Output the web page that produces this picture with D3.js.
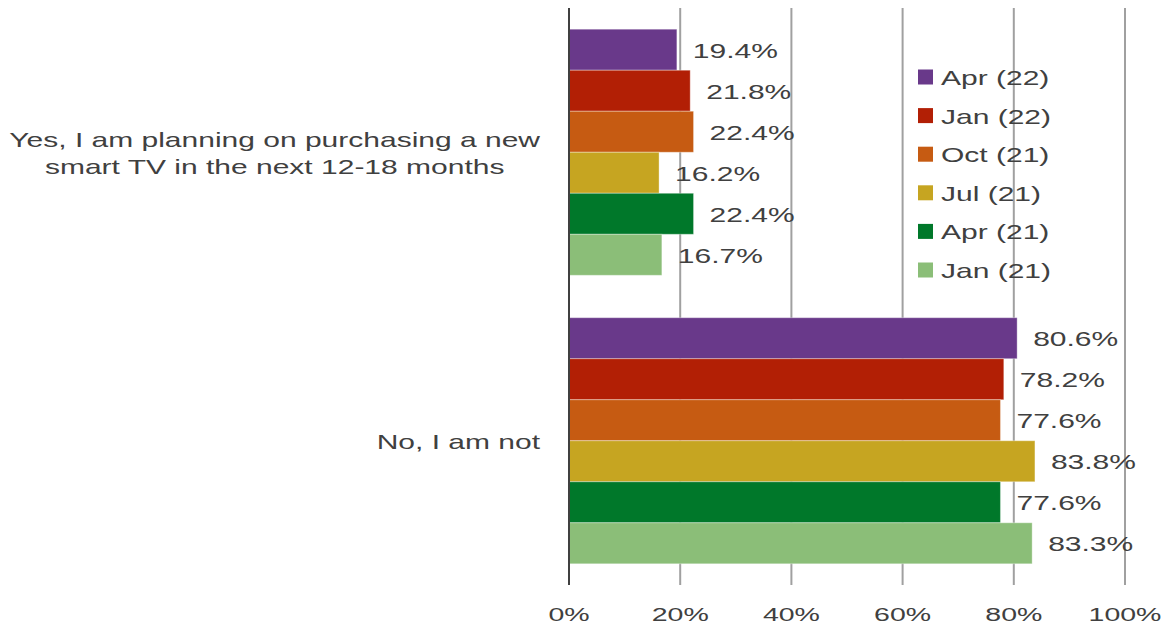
<!DOCTYPE html>
<html>
<head>
<meta charset="utf-8">
<script src="https://cdn.jsdelivr.net/npm/d3@7"></script>
<style>
  body { margin: 0; background: #fff; }
  text { font-family: "Liberation Sans", Arial, sans-serif; fill: #404040; }
</style>
</head>
<body>
<svg id="chart" width="1171" height="629"></svg>
<script>
// data
var categories = [
    ["Yes, I am planning on purchasing a new", "smart TV in the next 12-18 months"],
    ["No, I am not"]
]
var waves = ["Apr (22)", "Jan (22)", "Oct (21)", "Jul (21)", "Apr (21)", "Jan (21)"]
var colors = ["#69398a", "#b21f05", "#c65b12", "#c6a521", "#00782a", "#8bbe78"]
// values per wave, [yes, no]
var values = [
    [19.4, 80.6],
    [21.8, 78.2],
    [22.4, 77.6],
    [16.2, 83.8],
    [22.4, 77.6],
    [16.7, 83.3]
]
var xTicks = [0, 20, 40, 60, 80, 100]

var svg = d3.select("#chart")
var fontSize = 20
var stretch = 1.5   // original text is drawn wide

var x = d3.scaleLinear().domain([0, 100]).range([569, 1125])
var y0 = d3.scaleBand().domain(d3.range(categories.length)).range([8, 585])
    .paddingInner(0.147).paddingOuter(0.0735)
var y1 = d3.scaleBand().domain(waves).range([0, y0.bandwidth()])

var wideText = (sel, px, py, size = fontSize) => sel
    .attr("transform", `translate(${px},${py}) scale(${stretch},1)`)
    .attr("font-size", size)
    .attr("dominant-baseline", "central")

// grid lines
svg.append("g").selectAll("line")
    .data(xTicks.slice(1)).enter().append("line")
    .attr("x1", d => x(d)).attr("x2", d => x(d))
    .attr("y1", 8).attr("y2", 585)
    .attr("stroke", "#a0a0a0").attr("stroke-width", 2)

// bars
var groups = svg.append("g").selectAll("g")
    .data(categories).enter().append("g")
    .attr("transform", (d, i) => `translate(0,${y0(i)})`)

groups.each(function (c, ci) {
    var g = d3.select(this)
    var rows = waves.map((w, wi) => ({wave: w, color: colors[wi], v: values[wi][ci]}))
    g.selectAll("rect").data(rows).enter().append("rect")
        .attr("x", x(0))
        .attr("y", d => y1(d.wave))
        .attr("width", d => x(d.v) - x(0))
        .attr("height", y1.bandwidth())
        .attr("fill", d => d.color)
        .attr("stroke", "rgba(255,255,255,0.35)").attr("stroke-width", 1)
    g.selectAll("text").data(rows).enter().append("text")
        .each(function (d) {
            wideText(d3.select(this), x(d.v) + 16, y1(d.wave) + y1.bandwidth() / 2 + 1)
        })
        .text(d => d.v.toFixed(1) + "%")
})

// category axis line
svg.append("line")
    .attr("x1", x(0)).attr("x2", x(0))
    .attr("y1", 8).attr("y2", 585)
    .attr("stroke", "#404040").attr("stroke-width", 2)

// category labels: block right-aligned, lines centered inside it
categories.forEach((lines, ci) => {
    var cy = y0(ci) + y0.bandwidth() / 2 + 1
    var lh = 27
    var g = svg.append("g")
    var texts = lines.map((l, li) => wideText(g.append("text"), 0, cy + (li - (lines.length - 1) / 2) * lh)
        .attr("text-anchor", "middle").text(l))
    var maxW = d3.max(texts, t => t.node().getComputedTextLength()) * stretch
    var cx = 540 - maxW / 2
    texts.forEach((t, li) => t.attr("transform",
        `translate(${cx},${cy + (li - (lines.length - 1) / 2) * lh}) scale(${stretch},1)`))
})

// x tick labels
svg.append("g").selectAll("text")
    .data(xTicks).enter().append("text")
    .each(function (d) {
        wideText(d3.select(this), x(d), 614, 19).attr("text-anchor", "middle")
    })
    .text(d => d + "%")

// legend
var legend = svg.append("g").selectAll("g")
    .data(waves).enter().append("g")
    .attr("transform", (d, i) => `translate(918,${77 + i * 38.6})`)
legend.append("rect")
    .attr("x", 0).attr("y", -7.5).attr("width", 15).attr("height", 15)
    .attr("fill", (d, i) => colors[i])
legend.append("text")
    .each(function () { wideText(d3.select(this), 23, 1) })
    .text(d => d)
</script>
</body>
</html>
